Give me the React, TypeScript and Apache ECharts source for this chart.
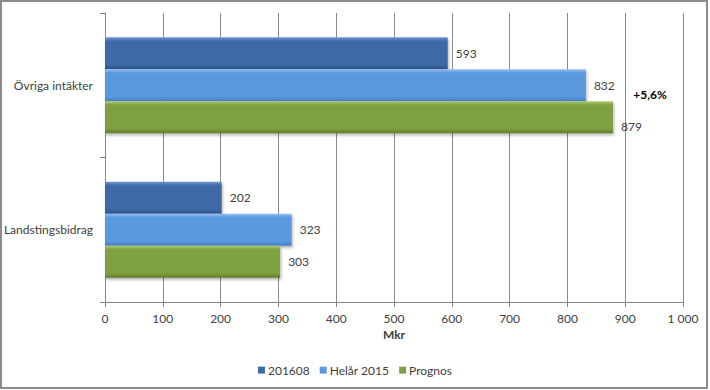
import React, { useEffect, useRef } from "react";
import * as echarts from "echarts";

const categories = ["Landstingsbidrag", "Övriga intäkter"];
const seriesNames = ["201608", "Helår 2015", "Prognos"];
const values201608 = [202, 593];
const valuesHelar2015 = [323, 832];
const valuesPrognos = [303, 879];
const annotationText = "+5,6%";

const palette = [
  { top: "#6F9AD2", main: "#3E6BA6", bottom: "#2C5283" },
  { top: "#95C0F0", main: "#5A98DF", bottom: "#457FC4" },
  { top: "#AFCB73", main: "#7FA03F", bottom: "#5F7D2C" },
];

const grad = (c: { top: string; main: string; bottom: string }) =>
  new echarts.graphic.LinearGradient(0, 0, 0, 1, [
    { offset: 0, color: c.top },
    { offset: 0.12, color: c.main },
    { offset: 0.85, color: c.main },
    { offset: 1, color: c.bottom },
  ]);

export default function App() {
  const ref = useRef<HTMLDivElement>(null);
  useEffect(() => {
    if (!ref.current) return;
    const chart = echarts.init(ref.current, undefined, { renderer: "svg" });
    const font = "Lato";
    const txt = "#404040";
    const allVals = [values201608, valuesHelar2015, valuesPrognos];
    chart.setOption({
      animation: false,
      textStyle: { fontFamily: font },
      grid: { left: 105, right: 27, top: 13, bottom: 88 },
      legend: {
        bottom: 9,
        left: "center",
        itemWidth: 7,
        itemHeight: 7,
        itemGap: 10,
        icon: "rect",
        textStyle: { fontFamily: font, fontSize: 12, color: txt, padding: [0, 0, 0, -2] },
        data: seriesNames,
      },
      xAxis: {
        type: "value",
        min: 0,
        max: 1000,
        interval: 100,
        name: "Mkr",
        nameLocation: "middle",
        nameGap: 25,
        nameTextStyle: { fontFamily: font, fontSize: 12, fontWeight: "bold", color: txt },
        axisLine: { show: true, lineStyle: { color: "#868686" } },
        axisTick: { show: true, length: 5, lineStyle: { color: "#868686" } },
        axisLabel: {
          fontFamily: font,
          fontSize: 12,
          color: txt,
          margin: 10,
          formatter: (v: number) => (v >= 1000 ? String(v).replace(/(\d)(?=(\d{3})+$)/g, "$1 ") : String(v)),
        },
        splitLine: { show: true, lineStyle: { color: "#8a8a8a" } },
      },
      yAxis: {
        type: "category",
        data: categories,
        axisLine: { show: true, lineStyle: { color: "#868686" } },
        axisTick: { show: true, length: 5, lineStyle: { color: "#868686" } },
        axisLabel: { fontFamily: font, fontSize: 12, color: txt, margin: 12 },
      },
      series: seriesNames.map((name, i) => ({
        name,
        type: "bar",
        barWidth: 32,
        barGap: "0%",
        itemStyle: {
          color: grad(palette[i]),
          shadowColor: "rgba(0,0,0,0.3)",
          shadowBlur: 3,
          shadowOffsetY: 2,
          shadowOffsetX: 1,
        },
        label: {
          show: true,
          position: "right",
          distance: 8,
          fontFamily: font,
          fontSize: 12,
          color: txt,
        },
        data: allVals[i].map((v, j) =>
          i === 2 && j === 1 ? { value: v, label: { offset: [0, 9] } } : { value: v }
        ),
      })),
      graphic: [
        {
          type: "rect",
          shape: { x: 1, y: 1, width: 706, height: 387 },
          style: { fill: "none", stroke: "#8c8c8c", lineWidth: 2 },
          silent: true,
        },
        {
          type: "text",
          x: 650,
          y: 94,
          style: {
            text: annotationText,
            fontFamily: font,
            fontSize: 12,
            fontWeight: "bold",
            fill: "#000",
            align: "center",
            verticalAlign: "middle",
          },
        },
      ],
    });
    return () => chart.dispose();
  }, []);
  return (
    <div
      ref={ref}
      style={{ position: "absolute", left: 0, top: 0, width: 710, height: 390, background: "#fff" }}
    />
  );
}
